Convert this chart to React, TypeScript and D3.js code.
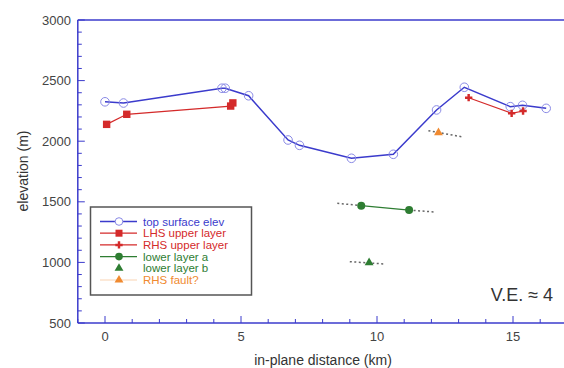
import React from "react";
import * as d3 from "d3";

const topX = [0.0, 0.68, 4.3, 4.42, 5.28, 6.73, 7.15, 9.06, 10.6, 12.19, 13.21, 14.9, 15.35, 16.22];
const topY = [2325, 2315, 2437, 2437, 2375, 2010, 1966, 1859, 1892, 2258, 2445, 2285, 2296, 2271];

const lhsX = [0.06, 0.8, 4.62, 4.7];
const lhsY = [2139, 2222, 2290, 2316];

const rhsX = [13.37, 14.95, 15.37];
const rhsY = [2359, 2230, 2249];

const lowAX = [9.42, 11.18];
const lowAY = [1468, 1432];

const lowBX = [9.71];
const lowBY = [998];

const faultX = [12.26];
const faultY = [2070];

// dotted extension segments [x1, y1, x2, y2]
const dotsX1 = [8.54, 11.18, 9.0, 11.89];
const dotsY1 = [1488, 1432, 1006, 2087];
const dotsX2 = [9.42, 12.09, 10.26, 13.15];
const dotsY2 = [1468, 1416, 987, 2035];

const xMajor = [0, 5, 10, 15];
const yMajor = [500, 1000, 1500, 2000, 2500, 3000];

const legendLabels = ["top surface elev", "LHS upper layer", "RHS upper layer", "lower layer a", "lower layer b", "RHS fault?"];

const BLUE = "#3b3bcc";
const RED = "#d42a2a";
const GREEN = "#2e7d32";
const ORANGE = "#f08a30";
const FONT = "Liberation Sans, Arial, sans-serif";

export default function App() {
  const W = 564, H = 368;
  const x = d3.scaleLinear().domain([-1, 17]).range([77.8, 567.4]);
  const y = d3.scaleLinear().domain([500, 3000]).range([323, 20]);
  const line = d3.line<[number, number]>().x(d => x(d[0])).y(d => y(d[1]));
  const zip = (a: number[], b: number[]) => a.map((v, i) => [v, b[i]] as [number, number]);

  const xMinor = d3.range(-1, 18, 1);
  const yMinor = d3.range(500, 3001, 100);
  const tri = d3.symbol().type(d3.symbolTriangle).size(34)()!;
  const diamond = d3.symbol().type(d3.symbolCross).size(30)()!;

  const legendTextColors = [BLUE, RED, RED, GREEN, GREEN, ORANGE];
  const lx0 = 100, lx1 = 137, lmx = 119, ltx = 143;
  const ly = (i: number) => 221.5 + i * 11.7;

  return (
    <svg width={W} height={H} style={{ position: "absolute", left: 0, top: 0, background: "#fff" }} fontFamily={FONT}>
      <defs>
        <clipPath id="plot"><rect x={x(-1)} y={0} width={W} height={330} /></clipPath>
      </defs>
      {/* axes */}
      <line x1={x(-1)} x2={W} y1={y(3000)} y2={y(3000)} stroke={BLUE} strokeWidth={1.5} />
      <line x1={x(-1)} x2={W} y1={y(500)} y2={y(500)} stroke={BLUE} strokeWidth={1.5} />
      <line x1={x(-1)} x2={x(-1)} y1={y(3000)} y2={y(500)} stroke={BLUE} strokeWidth={1.5} />
      {yMinor.map(v => (
        <line key={"ym" + v} x1={x(-1)} x2={x(-1) + (v % 500 === 0 ? 7 : 4)} y1={y(v)} y2={y(v)} stroke={BLUE} strokeWidth={1} />
      ))}
      {xMinor.map(v => (
        <line key={"xm" + v} x1={x(v)} x2={x(v)} y1={y(500)} y2={y(500) - (v % 5 === 0 ? 7 : 4)} stroke={BLUE} strokeWidth={1} />
      ))}
      {yMajor.map(v => (
        <text key={"yl" + v} x={71} y={y(v)} dy="0.35em" textAnchor="end" fontSize={13} fill="#444">{v}</text>
      ))}
      {xMajor.map(v => (
        <text key={"xl" + v} x={x(v)} y={341} textAnchor="middle" fontSize={13} fill="#444">{v}</text>
      ))}
      <text x={323} y={365} textAnchor="middle" fontSize={14} fill="#333">in-plane distance (km)</text>
      <text transform={`translate(28,171) rotate(-90)`} textAnchor="middle" fontSize={14} fill="#333">elevation (m)</text>
      <text x={522} y={301} textAnchor="middle" fontSize={18} fill="#333">V.E. ≈ 4</text>

      <g clipPath="url(#plot)">
        {dotsX1.map((v, i) => (
          <line key={"d" + i} x1={x(v)} y1={y(dotsY1[i])} x2={x(dotsX2[i])} y2={y(dotsY2[i])} stroke="#666" strokeWidth={1.5} strokeDasharray="2,2.5" />
        ))}
        <path d={line(zip(topX, topY))!} fill="none" stroke={BLUE} strokeWidth={1.5} />
        {topX.map((v, i) => (
          <circle key={"t" + i} cx={x(v)} cy={y(topY[i])} r={4.3} fill="none" stroke="#8a8ae6" strokeWidth={1} />
        ))}
        <path d={line(zip(lhsX, lhsY))!} fill="none" stroke={RED} strokeWidth={1.2} />
        {lhsX.map((v, i) => (
          <rect key={"l" + i} x={x(v) - 3.7} y={y(lhsY[i]) - 3.7} width={7.4} height={7.4} fill={RED} />
        ))}
        <path d={line(zip(rhsX, rhsY))!} fill="none" stroke={RED} strokeWidth={1.2} />
        {rhsX.map((v, i) => (
          <path key={"r" + i} d={diamond} transform={`translate(${x(v)},${y(rhsY[i])})`} fill={RED} />
        ))}
        <path d={line(zip(lowAX, lowAY))!} fill="none" stroke={GREEN} strokeWidth={1.2} />
        {lowAX.map((v, i) => (
          <circle key={"a" + i} cx={x(v)} cy={y(lowAY[i])} r={4} fill={GREEN} />
        ))}
        {lowBX.map((v, i) => (
          <path key={"b" + i} d={tri} transform={`translate(${x(v)},${y(lowBY[i])})`} fill={GREEN} />
        ))}
        {faultX.map((v, i) => (
          <path key={"f" + i} d={tri} transform={`translate(${x(v)},${y(faultY[i])})`} fill={ORANGE} />
        ))}
      </g>

      {/* legend */}
      <rect x={90.5} y={207} width={161} height={88} fill="#fff" stroke="#555" strokeWidth={1.5} />
      {legendLabels.map((lab, i) => {
        const cy = ly(i);
        let sample: React.ReactNode = null;
        if (i === 0) sample = <><line x1={lx0} x2={lx1} y1={cy} y2={cy} stroke={BLUE} strokeWidth={1.3} /><circle cx={lmx} cy={cy} r={3.8} fill="#fff" stroke="#8a8ae6" strokeWidth={1} /></>;
        if (i === 1) sample = <><line x1={lx0} x2={lx1} y1={cy} y2={cy} stroke={RED} strokeWidth={1.2} /><rect x={lmx - 3.5} y={cy - 3.5} width={7} height={7} fill={RED} /></>;
        if (i === 2) sample = <><line x1={lx0} x2={lx1} y1={cy} y2={cy} stroke={RED} strokeWidth={1.2} /><path d={diamond} transform={`translate(${lmx},${cy})`} fill={RED} /></>;
        if (i === 3) sample = <><line x1={lx0} x2={lx1} y1={cy} y2={cy} stroke={GREEN} strokeWidth={1.2} /><circle cx={lmx} cy={cy} r={3.8} fill={GREEN} /></>;
        if (i === 4) sample = <path d={tri} transform={`translate(${lmx},${cy})`} fill={GREEN} />;
        if (i === 5) sample = <><line x1={lx0} x2={lx1} y1={cy} y2={cy} stroke="#f8c8a0" strokeWidth={0.8} /><path d={tri} transform={`translate(${lmx},${cy})`} fill={ORANGE} /></>;
        return (
          <g key={"lg" + i}>
            {sample}
            <text x={ltx} y={cy} dy="0.35em" fontSize={11.5} fill={legendTextColors[i]}>{lab}</text>
          </g>
        );
      })}
    </svg>
  );
}
